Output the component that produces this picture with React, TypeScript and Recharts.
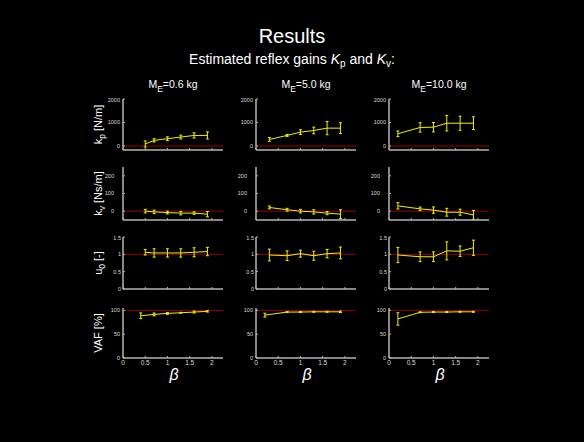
import React from 'react';
import { ComposedChart, Line, ErrorBar, XAxis, YAxis, ReferenceLine } from 'recharts';

// beta values per mass condition (columns)
const betaM06 = [0.5, 0.7, 1.0, 1.3, 1.6, 1.9];
const betaM50 = [0.3, 0.7, 1.0, 1.3, 1.6, 1.9];
const betaM100 = [0.2, 0.7, 1.0, 1.3, 1.6, 1.9];
const betaVafM06 = [0.4, 0.7, 1.0, 1.3, 1.6, 1.9];
const betaVafM50 = [0.2, 0.7, 1.0, 1.3, 1.6, 1.9];
const betaVafM100 = [0.2, 0.7, 1.0, 1.3, 1.6, 1.9];

// k_p [N/m]
const kpM06 = [85, 240, 310, 380, 450, 450];
const kpErrM06 = [130, 70, 80, 80, 110, 150];
const kpM50 = [280, 450, 590, 660, 760, 760];
const kpErrM50 = [80, 40, 100, 140, 280, 230];
const kpM100 = [520, 790, 800, 970, 970, 970];
const kpErrM100 = [120, 200, 200, 330, 300, 270];

// k_v [Ns/m]
const kvM06 = [0, -4, -8, -11, -11, -17];
const kvErrM06 = [10, 10, 8, 10, 7, 15];
const kvM50 = [21, 8, 0, -4, -11, -17];
const kvErrM50 = [8, 8, 10, 12, 9, 25];
const kvM100 = [30, 13, 6, -6, -6, -21];
const kvErrM100 = [18, 10, 18, 22, 17, 25];

// u_0 [-]
const u0M06 = [1.06, 1.04, 1.04, 1.04, 1.06, 1.08];
const u0ErrM06 = [0.08, 0.12, 0.12, 0.12, 0.13, 0.12];
const u0M50 = [0.98, 0.96, 1.02, 0.96, 1.02, 1.04];
const u0ErrM50 = [0.17, 0.14, 0.1, 0.13, 0.12, 0.17];
const u0M100 = [0.98, 0.93, 0.93, 1.1, 1.09, 1.19];
const u0ErrM100 = [0.22, 0.14, 0.14, 0.26, 0.15, 0.22];

// VAF [%]
const vafM06 = [88.7, 91.5, 93.7, 95, 96.5, 98];
const vafErrM06 = [6, 3, 2, 1, 2, 1.5];
const vafM50 = [90, 96.5, 96.5, 97, 97, 97];
const vafErrM50 = [4, 1, 1, 1, 1, 1.5];
const vafM100 = [82, 96, 96.5, 96.5, 97, 97];
const vafErrM100 = [13, 1, 1, 1, 1, 1];

const massLabels = ['0.6', '5.0', '10.0'];
const betaTicks = [0, 0.5, 1, 1.5, 2];

const toRows = (xs: number[], ys: number[], errs: number[]) =>
  xs.map((x, i) => ({ beta: x, val: ys[i], err: errs[i] }));

const rowDefs = [
  {
    top: 99, height: 51, domain: [-170, 2000], ticks: [0, 1000, 2000], ref: 0, gap: 3,
    label: ['k', 'p', ' [N/m]'],
    data: [toRows(betaM06, kpM06, kpErrM06), toRows(betaM50, kpM50, kpErrM50), toRows(betaM100, kpM100, kpErrM100)],
  },
  {
    top: 167, height: 53, domain: [-50, 250], ticks: [0, 100, 200], ref: 0, gap: 9,
    label: ['k', 'v', ' [Ns/m]'],
    data: [toRows(betaM06, kvM06, kvErrM06), toRows(betaM50, kvM50, kvErrM50), toRows(betaM100, kvM100, kvErrM100)],
  },
  {
    top: 237, height: 52, domain: [0, 1.5], ticks: [0, 0.5, 1, 1.5], ref: 1, gap: 2,
    label: ['u', '0', ' [-]'],
    data: [toRows(betaM06, u0M06, u0ErrM06), toRows(betaM50, u0M50, u0ErrM50), toRows(betaM100, u0M100, u0ErrM100)],
  },
  {
    top: 308, height: 50, domain: [0, 105], ticks: [0, 50, 100], ref: 100, gap: 3,
    label: ['VAF [%]', '', ''],
    data: [toRows(betaVafM06, vafM06, vafErrM06), toRows(betaVafM50, vafM50, vafErrM50), toRows(betaVafM100, vafM100, vafErrM100)],
  },
];

const colLeft = [123, 256, 389];
const PLOT_W = 100;
const Y_W = 30;
const X_H = 14;
const AXIS = '#b4b4b4';
const FONT = '"Liberation Sans", Arial, sans-serif';

const Panel = ({ data, row, col, showX }: any) => {
  const width = Y_W + PLOT_W + 4;
  const height = 2 + row.height + X_H;
  return (
    <div style={{ position: 'absolute', left: colLeft[col] - Y_W, top: row.top - 2 }}>
      <ComposedChart width={width} height={height} data={data}
        margin={{ top: 2, right: 4, left: 0, bottom: 0 }}>
        <XAxis dataKey="beta" type="number" domain={[0, 2.25]} ticks={betaTicks}
          allowDataOverflow height={X_H} stroke={AXIS}
          axisLine={{ stroke: AXIS, strokeWidth: 1.5 }} tickLine={{ stroke: AXIS }}
          tickSize={-2} tickMargin={4}
          tick={{ fill: showX ? '#dddddd' : 'none', fontSize: 6.5, fontFamily: FONT }} />
        <YAxis type="number" domain={row.domain} ticks={row.ticks} allowDataOverflow
          width={Y_W} stroke={AXIS}
          axisLine={{ stroke: AXIS, strokeWidth: 1.5 }} tickLine={{ stroke: AXIS }}
          tickSize={-2} tickMargin={2 + row.gap}
          tick={{ fill: '#dddddd', fontSize: 5.5, fontFamily: FONT }} />
        <ReferenceLine y={row.ref} stroke="#960000" strokeWidth={1} />
        <Line dataKey="val" stroke="#f0f000" strokeWidth={1} dot={false} isAnimationActive={false}>
          <ErrorBar dataKey="err" width={1.5} stroke="#f0f000" strokeWidth={1} isAnimationActive={false} />
        </Line>
      </ComposedChart>
    </div>
  );
};

export default function App() {
  return (
    <div style={{ position: 'fixed', left: 0, top: 0, width: 584, height: 442, background: '#000', overflow: 'hidden' }}>
      {rowDefs.map((row, r) =>
        row.data.map((d, c) => (
          <Panel key={`${r}-${c}`} data={d} row={row} col={c} showX={r === rowDefs.length - 1} />
        ))
      )}
      <svg width={584} height={442} style={{ position: 'absolute', left: 0, top: 0, pointerEvents: 'none' }}
        fontFamily={FONT} fill="#ffffff">
        <text x={292} y={43} fontSize={20} textAnchor="middle">Results</text>
        <text x={292} y={64} fontSize={14} textAnchor="middle">
          Estimated reflex gains <tspan fontStyle="italic">K</tspan>
          <tspan fontSize={10} dy={3}>p</tspan>
          <tspan dy={-3}> and </tspan>
          <tspan fontStyle="italic">K</tspan>
          <tspan fontSize={10} dy={3}>v</tspan>
          <tspan dy={-3}>:</tspan>
        </text>
        {massLabels.map((m, c) => (
          <text key={m} x={colLeft[c] + 50} y={88} fontSize={10.5} textAnchor="middle">
            M<tspan fontSize={8.5} dy={3.5}>E</tspan><tspan dy={-3.5}>={m} kg</tspan>
          </text>
        ))}
        {rowDefs.map((row, r) => {
          const cy = row.top + row.height / 2;
          const x = 102;
          return (
            <text key={r} x={x} y={cy} fontSize={11} textAnchor="middle" transform={`rotate(-90 ${x} ${cy})`}>
              {row.label[0]}
              {row.label[1] && <tspan fontSize={8.5} dy={3}>{row.label[1]}</tspan>}
              {row.label[2] && <tspan dy={-3}>{row.label[2]}</tspan>}
            </text>
          );
        })}
        {colLeft.map((l, c) => (
          <text key={c} x={l + 51} y={380} fontSize={16} fontStyle="italic" textAnchor="middle">β</text>
        ))}
      </svg>
    </div>
  );
}
